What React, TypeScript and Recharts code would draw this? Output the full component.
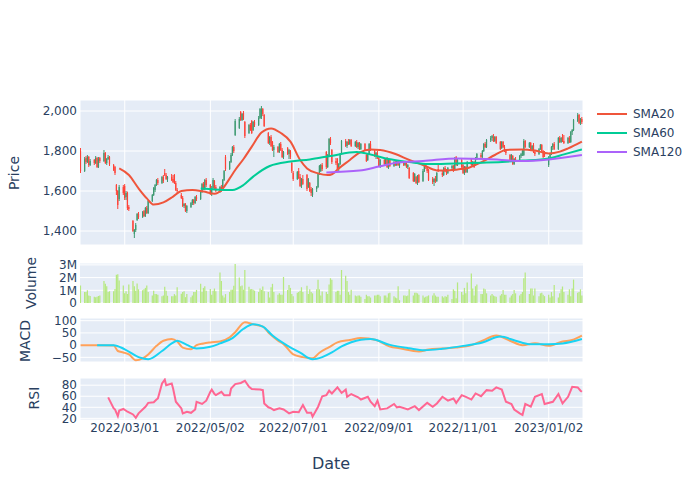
import React from "react";
import { ComposedChart, Bar, Line, XAxis, YAxis, CartesianGrid } from "recharts";

const FONT = '"DejaVu Sans", Verdana, sans-serif';
const INK = "#2a3f5f";
const BG = "#E5ECF6";

// daily candles [open, high, low, close], one array per month
const c2201 = [[1800, 1815, 1690, 1700], [1700, 1770, 1695, 1760]];
const c2202 = [
  [1765, 1775, 1735, 1745], [1745, 1780, 1740, 1770], [1770, 1775, 1720, 1730], [1730, 1760, 1725, 1750],
  [1755, 1760, 1730, 1740], [1740, 1775, 1735, 1765], [1765, 1770, 1715, 1720], [1720, 1770, 1715, 1760], [1765, 1770, 1740, 1750],
  [1750, 1805, 1745, 1790], [1790, 1795, 1735, 1740], [1740, 1765, 1730, 1760], [1760, 1780, 1755, 1770], [1770, 1775, 1725, 1735],
  [1730, 1735, 1700, 1705], [1720, 1725, 1680, 1690], [1630, 1635, 1580, 1600], [1600, 1605, 1510, 1530], [1560, 1630, 1550, 1620],
  [1620, 1630, 1580, 1590],
];
const c2203 = [
  [1625, 1635, 1555, 1565], [1570, 1600, 1555, 1590], [1590, 1597, 1505, 1515], [1520, 1530, 1500, 1510],
  [1450, 1455, 1395, 1400], [1385, 1410, 1365, 1405], [1405, 1440, 1395, 1430], [1455, 1490, 1450, 1485], [1485, 1495, 1460, 1470],
  [1470, 1500, 1465, 1495], [1500, 1505, 1470, 1475], [1475, 1520, 1470, 1515], [1515, 1525, 1485, 1490], [1490, 1555, 1485, 1550],
  [1550, 1585, 1545, 1580], [1580, 1620, 1575, 1615], [1605, 1635, 1595, 1630], [1630, 1660, 1625, 1655], [1655, 1665, 1630, 1640],
  [1640, 1675, 1635, 1670], [1670, 1680, 1640, 1650], [1690, 1710, 1675, 1680], [1680, 1690, 1655, 1660],
];
const c2204 = [
  [1660, 1675, 1645, 1670],
  [1670, 1685, 1650, 1655], [1660, 1680, 1640, 1645], [1680, 1685, 1635, 1640], [1640, 1650, 1600, 1605], [1605, 1615, 1590, 1600],
  [1580, 1590, 1560, 1565], [1565, 1575, 1520, 1525], [1525, 1540, 1515, 1535], [1535, 1540, 1495, 1500], [1500, 1530, 1490, 1525],
  [1520, 1545, 1515, 1540], [1540, 1560, 1530, 1555], [1555, 1560, 1530, 1540], [1540, 1575, 1535, 1570], [1570, 1580, 1550, 1560],
  [1560, 1600, 1555, 1595], [1595, 1640, 1590, 1635], [1635, 1645, 1605, 1610], [1610, 1660, 1605, 1655], [1655, 1665, 1620, 1630],
];
const c2205 = [
  [1630, 1635, 1580, 1590], [1590, 1625, 1575, 1615], [1615, 1665, 1610, 1655], [1650, 1655, 1610, 1620], [1620, 1630, 1595, 1600],
  [1600, 1625, 1590, 1620], [1620, 1630, 1595, 1600], [1605, 1660, 1600, 1655], [1655, 1705, 1650, 1700], [1770, 1780, 1700, 1710],
  [1710, 1750, 1705, 1745], [1745, 1790, 1740, 1780], [1780, 1825, 1775, 1820], [1820, 1830, 1790, 1800], [1880, 1960, 1875, 1950],
  [1915, 1970, 1910, 1960], [1995, 2000, 1950, 1955], [1955, 1990, 1950, 1985], [1990, 2000, 1955, 1960], [1945, 1950, 1865, 1875],
  [1890, 1935, 1885, 1930], [1930, 1940, 1900, 1905],
];
const c2206 = [
  [1950, 1955, 1885, 1890], [1905, 1950, 1900, 1945], [1945, 1955, 1920, 1930],
  [1930, 1975, 1925, 1965], [1965, 2015, 1960, 2010], [1970, 2025, 1960, 2010], [2010, 2015, 1975, 1985], [1980, 1985, 1920, 1925],
  [1890, 1895, 1835, 1840], [1840, 1875, 1830, 1870], [1870, 1880, 1820, 1825], [1845, 1850, 1800, 1805], [1805, 1830, 1770, 1820],
  [1820, 1825, 1790, 1795], [1795, 1840, 1790, 1835], [1835, 1845, 1800, 1805], [1805, 1815, 1765, 1770], [1770, 1800, 1760, 1795],
  [1815, 1820, 1780, 1785], [1785, 1810, 1760, 1805], [1800, 1805, 1760, 1770], [1740, 1745, 1690, 1700],
];
const c2207 = [
  [1690, 1700, 1650, 1660],
  [1660, 1700, 1655, 1695], [1700, 1715, 1660, 1665], [1670, 1685, 1620, 1625], [1625, 1665, 1615, 1660], [1660, 1680, 1630, 1635],
  [1680, 1685, 1600, 1610], [1620, 1665, 1615, 1660], [1640, 1645, 1595, 1600], [1610, 1620, 1575, 1590], [1580, 1615, 1570, 1610],
  [1610, 1625, 1595, 1620], [1620, 1690, 1615, 1685], [1685, 1730, 1680, 1725], [1700, 1735, 1695, 1730], [1730, 1740, 1700, 1710],
  [1795, 1800, 1710, 1720], [1720, 1785, 1715, 1780], [1775, 1865, 1770, 1860], [1860, 1870, 1830, 1840], [1805, 1810, 1735, 1745],
];
const c2208 = [
  [1750, 1765, 1730, 1740], [1760, 1765, 1705, 1710], [1710, 1740, 1700, 1735], [1735, 1790, 1730, 1785], [1790, 1855, 1785, 1850],
  [1850, 1860, 1820, 1825], [1825, 1850, 1815, 1845], [1845, 1860, 1830, 1835], [1835, 1860, 1830, 1855], [1855, 1860, 1820, 1825],
  [1825, 1850, 1820, 1845], [1845, 1855, 1815, 1820], [1820, 1845, 1810, 1840], [1840, 1845, 1805, 1810], [1810, 1840, 1805, 1835],
  [1835, 1840, 1800, 1805], [1780, 1785, 1745, 1750], [1755, 1790, 1750, 1785], [1785, 1840, 1780, 1835], [1835, 1850, 1800, 1805],
  [1800, 1810, 1770, 1775], [1775, 1795, 1760, 1790], [1790, 1800, 1760, 1765],
];
const c2209 = [
  [1765, 1770, 1720, 1725], [1725, 1760, 1715, 1755],
  [1755, 1765, 1730, 1735], [1735, 1765, 1725, 1760], [1760, 1770, 1715, 1720], [1715, 1765, 1710, 1760], [1755, 1760, 1720, 1725],
  [1725, 1750, 1720, 1745], [1745, 1750, 1725, 1730], [1730, 1755, 1725, 1750], [1750, 1755, 1725, 1730], [1730, 1745, 1715, 1740],
  [1740, 1750, 1725, 1730], [1730, 1750, 1725, 1745], [1745, 1750, 1715, 1720], [1720, 1735, 1710, 1730], [1715, 1720, 1660, 1665],
  [1690, 1695, 1645, 1650], [1650, 1690, 1645, 1685], [1670, 1675, 1635, 1640], [1640, 1680, 1630, 1675], [1680, 1685, 1640, 1645],
];
const c2210 = [
  [1650, 1710, 1645, 1700], [1700, 1740, 1695, 1735], [1735, 1740, 1710, 1720], [1720, 1725, 1690, 1700], [1705, 1710, 1650, 1655],
  [1660, 1670, 1635, 1645], [1645, 1665, 1625, 1660], [1660, 1675, 1640, 1650], [1650, 1695, 1645, 1690], [1710, 1730, 1695, 1700],
  [1690, 1700, 1670, 1680], [1680, 1720, 1675, 1715], [1715, 1725, 1695, 1700], [1700, 1710, 1680, 1690], [1690, 1720, 1685, 1715],
  [1715, 1730, 1700, 1725], [1725, 1730, 1695, 1700], [1705, 1770, 1700, 1765], [1770, 1775, 1725, 1730], [1730, 1760, 1725, 1755],
  [1755, 1760, 1715, 1720],
];
const c2211 = [
  [1730, 1735, 1685, 1690], [1690, 1725, 1680, 1720], [1720, 1725, 1690, 1695], [1695, 1750, 1690, 1745],
  [1760, 1765, 1725, 1730], [1730, 1750, 1720, 1745], [1745, 1750, 1715, 1720], [1730, 1770, 1725, 1765], [1765, 1790, 1755, 1785],
  [1780, 1790, 1760, 1770], [1770, 1805, 1765, 1800], [1800, 1840, 1795, 1835], [1835, 1845, 1815, 1820], [1820, 1860, 1815, 1855],
  [1855, 1875, 1845, 1865], [1865, 1880, 1850, 1875], [1870, 1885, 1845, 1850], [1850, 1875, 1845, 1870], [1870, 1875, 1835, 1840],
  [1845, 1850, 1805, 1810], [1815, 1850, 1810, 1845], [1845, 1850, 1815, 1820],
];
const c2212 = [
  [1820, 1830, 1795, 1800], [1800, 1810, 1780, 1790],
  [1780, 1785, 1745, 1750], [1750, 1785, 1745, 1780], [1775, 1780, 1730, 1735], [1735, 1765, 1730, 1760], [1760, 1770, 1745, 1750],
  [1750, 1780, 1745, 1775], [1775, 1790, 1765, 1785], [1785, 1810, 1775, 1800], [1780, 1860, 1775, 1850], [1850, 1855, 1815, 1820],
  [1820, 1845, 1815, 1840], [1840, 1845, 1800, 1805], [1805, 1830, 1800, 1825], [1830, 1840, 1790, 1795], [1795, 1805, 1775, 1785],
  [1785, 1815, 1780, 1810], [1810, 1835, 1805, 1830], [1830, 1835, 1795, 1800], [1800, 1805, 1765, 1770], [1790, 1800, 1770, 1780],
];
const c2301 = [
  [1730, 1775, 1720, 1770], [1770, 1790, 1760, 1785], [1785, 1825, 1780, 1820], [1820, 1840, 1805, 1835], [1835, 1845, 1805, 1810],
  [1810, 1870, 1805, 1865], [1865, 1875, 1840, 1845], [1845, 1870, 1840, 1865], [1870, 1885, 1845, 1850], [1850, 1880, 1835, 1840],
  [1840, 1870, 1835, 1865], [1865, 1875, 1840, 1845], [1845, 1900, 1840, 1895], [1895, 1910, 1880, 1905], [1905, 1960, 1900, 1955],
  [1950, 1990, 1945, 1980], [1980, 1985, 1935, 1940], [1940, 1965, 1930, 1960], [1960, 1970, 1935, 1945],
];

// volume in millions, daily
const volumeH1 = [
  1.37, 0.86, 0.86, 1.0, 0.6, 0.55, 0.5, 0.46, 0.5, 0.55,
  0.59, 1.73, 1.51, 1.32, 0.86, 0.92, 0.92, 1.1, 2.22, 2.27,
  1.78, 1.38, 0.76, 0.92, 0.7, 1.46, 1.73, 1.32, 0.97, 1.54,
  1.08, 1.0, 1.08, 1.19, 1.38, 0.86, 0.59, 0.97, 0.7, 0.7,
  0.65, 0.54, 0.59, 1.27, 0.97, 0.57, 0.54, 0.54, 0.7, 0.59,
  1.24, 0.73, 0.86, 0.92, 0.46, 0.7, 0.46, 0.59, 0.86, 0.86,
  1.03, 1.51, 0.86, 1.19, 1.32, 0.97, 1.11, 0.65, 0.97, 1.14,
  0.92, 2.4, 1.73, 0.59, 0.43, 0.7, 0.86, 1.05, 1.05, 1.35,
  3.08, 2.0, 1.32, 1.38, 1.05, 2.6, 1.27, 1.08, 1.11, 1.05,
  0.97, 0.86, 1.14, 1.03, 1.3, 0.92, 0.86, 0.43, 1.24, 1.51,
  0.86, 0.65, 0.76, 0.65, 0.65, 2.05, 1.03, 1.41, 1.19, 0.7,
  0.54, 0.8, 0.86, 0.97, 1.24, 0.86, 1.35, 0.7, 1.08, 0.86,
  0.76, 1.08, 1.84, 1.08, 0.59, 0.9, 0.86, 0.7, 1.46, 1.95, 1.84,
];
const volumeH2 = [
  0.86, 0.97, 0.97, 0.65, 2.6, 2.14, 1.73, 0.86, 0.65,
  1.05, 0.59, 0.54, 0.59, 0.59, 0.49, 0.32, 0.65, 0.54, 0.54,
  0.43, 0.6, 0.59, 0.65, 0.65, 0.54, 0.59, 0.59, 0.43, 0.76, 0.81,
  0.54, 0.43, 0.38, 1.32, 0.22, 0.59, 0.59, 0.54, 0.59, 1.08,
  0.59, 0.81, 0.81, 0.76, 0.65, 0.59, 0.43, 0.49, 0.54, 0.6, 0.59,
  0.76, 0.59, 0.49, 0.49, 0.54, 0.43, 0.54, 0.49, 0.65, 0.32,
  1.08, 0.97, 0.38, 1.62, 0.86, 0.65, 1.19, 0.76, 1.62, 2.32,
  1.14, 0.59, 1.32, 1.46, 0.7, 0.7, 1.14, 1.08, 0.76, 0.59,
  0.7, 0.59, 0.54, 0.49, 0.6, 0.7, 1.03, 0.65, 0.65, 0.43, 0.59,
  0.7, 1.03, 0.76, 0.59, 0.7, 0.86, 1.95, 2.4, 0.7, 1.14,
  1.14, 0.59, 1.14, 0.54, 0.76, 0.81, 0.65, 0.54, 0.65, 0.43,
  0.86, 0.54, 1.41, 0.43, 0.76, 1.08, 1.3, 0.86, 0.65, 1.08,
  0.54, 1.14, 1.84, 0.81, 0.86, 1.08,
];

// moving averages, read at roughly weekly dates
const sma20: [string, number][] = [
  ["2022-02-25", 1713], ["2022-03-04", 1680], ["2022-03-11", 1613], ["2022-03-17", 1563], ["2022-03-22", 1532],
  ["2022-03-29", 1543], ["2022-04-05", 1572], ["2022-04-11", 1600], ["2022-04-19", 1605], ["2022-04-27", 1597],
  ["2022-05-05", 1586], ["2022-05-10", 1605], ["2022-05-16", 1663], ["2022-05-20", 1705], ["2022-05-26", 1760],
  ["2022-06-01", 1822], ["2022-06-08", 1892], ["2022-06-15", 1913], ["2022-06-22", 1890], ["2022-06-29", 1847],
  ["2022-07-06", 1755], ["2022-07-11", 1713], ["2022-07-19", 1688], ["2022-07-26", 1680], ["2022-07-29", 1684],
  ["2022-08-03", 1713], ["2022-08-11", 1755], ["2022-08-18", 1792], ["2022-08-26", 1808], ["2022-09-02", 1805],
  ["2022-09-13", 1785], ["2022-09-23", 1755], ["2022-10-03", 1730], ["2022-10-13", 1703], ["2022-10-20", 1702],
  ["2022-10-28", 1708], ["2022-11-04", 1714], ["2022-11-15", 1747], ["2022-11-24", 1780], ["2022-12-02", 1805],
  ["2022-12-14", 1808], ["2022-12-23", 1802], ["2023-01-02", 1788], ["2023-01-10", 1797], ["2023-01-16", 1813],
  ["2023-01-26", 1847],
];
const sma60: [string, number][] = [
  ["2022-04-25", 1613], ["2022-05-05", 1608], ["2022-05-18", 1605], ["2022-05-26", 1630], ["2022-06-02", 1672],
  ["2022-06-14", 1725], ["2022-06-29", 1747], ["2022-07-13", 1758], ["2022-07-28", 1775], ["2022-08-16", 1795],
  ["2022-08-26", 1783], ["2022-09-08", 1760], ["2022-09-23", 1745], ["2022-10-07", 1735], ["2022-10-26", 1738],
  ["2022-11-18", 1742], ["2022-12-14", 1752], ["2023-01-02", 1763], ["2023-01-13", 1783], ["2023-01-26", 1808],
];
const sma120: [string, number][] = [
  ["2022-07-25", 1693], ["2022-08-18", 1702], ["2022-09-01", 1722], ["2022-09-15", 1743], ["2022-10-03", 1750],
  ["2022-10-28", 1763], ["2022-11-18", 1760], ["2022-12-14", 1750], ["2023-01-02", 1758], ["2023-01-26", 1780],
];

const macd: [string, number][] = [
  ["2022-01-28", 0], ["2022-02-09", 0], ["2022-02-21", -2], ["2022-02-24", -24], ["2022-02-28", -30],
  ["2022-03-04", -38], ["2022-03-09", -62], ["2022-03-14", -54], ["2022-03-18", -38], ["2022-03-24", -3],
  ["2022-03-29", 18], ["2022-04-04", 25], ["2022-04-08", 15], ["2022-04-12", -10], ["2022-04-18", -17],
  ["2022-04-22", 0], ["2022-04-27", 7], ["2022-05-02", 11], ["2022-05-09", 15], ["2022-05-16", 32],
  ["2022-05-20", 53], ["2022-05-27", 94], ["2022-06-02", 85], ["2022-06-09", 76], ["2022-06-14", 46],
  ["2022-06-20", 18], ["2022-06-24", 4], ["2022-07-01", -38], ["2022-07-08", -49], ["2022-07-15", -54],
  ["2022-07-20", -31], ["2022-07-27", -8], ["2022-08-02", 11], ["2022-08-11", 21], ["2022-08-19", 29],
  ["2022-08-30", 21], ["2022-09-09", -6], ["2022-09-16", -13], ["2022-09-30", -26], ["2022-10-07", -18],
  ["2022-10-17", -14], ["2022-10-27", -10], ["2022-11-07", 0], ["2022-11-15", 18], ["2022-11-25", 39],
  ["2022-12-05", 18], ["2022-12-14", 0], ["2022-12-23", 8], ["2023-01-02", -3], ["2023-01-12", 15],
  ["2023-01-19", 21], ["2023-01-26", 39],
];
const signal: [string, number][] = [
  ["2022-02-09", 0], ["2022-02-21", 0], ["2022-03-01", -17], ["2022-03-11", -49], ["2022-03-18", -58],
  ["2022-03-28", -24], ["2022-04-04", 7], ["2022-04-08", 18], ["2022-04-15", 1], ["2022-04-22", -14],
  ["2022-05-02", -7], ["2022-05-09", 7], ["2022-05-18", 29], ["2022-05-26", 67], ["2022-06-02", 85],
  ["2022-06-09", 76], ["2022-06-16", 39], ["2022-06-27", -3], ["2022-07-06", -31], ["2022-07-15", -58],
  ["2022-07-22", -49], ["2022-07-29", -30], ["2022-08-05", -5], ["2022-08-12", 12], ["2022-08-19", 22],
  ["2022-08-26", 25], ["2022-09-09", 1], ["2022-09-23", -13], ["2022-10-04", -21], ["2022-10-17", -15],
  ["2022-11-01", -3], ["2022-11-15", 11], ["2022-11-28", 35], ["2022-12-09", 18], ["2022-12-19", 4],
  ["2023-01-02", 4], ["2023-01-12", 7], ["2023-01-26", 25],
];

const rsi: [string, number][] = [
  ["2022-02-17", 58], ["2022-02-21", 38], ["2022-02-22", 36], ["2022-02-24", 24], ["2022-02-25", 34],
  ["2022-02-28", 37], ["2022-03-03", 32], ["2022-03-07", 27], ["2022-03-09", 21], ["2022-03-11", 29],
  ["2022-03-16", 41], ["2022-03-18", 48], ["2022-03-22", 49], ["2022-03-24", 54], ["2022-03-25", 56],
  ["2022-03-28", 83], ["2022-03-30", 90], ["2022-03-31", 80], ["2022-04-04", 83], ["2022-04-05", 74],
  ["2022-04-07", 50], ["2022-04-11", 38], ["2022-04-12", 29], ["2022-04-15", 32], ["2022-04-18", 30],
  ["2022-04-21", 36], ["2022-04-22", 50], ["2022-04-26", 46], ["2022-04-29", 52], ["2022-05-02", 68],
  ["2022-05-03", 72], ["2022-05-05", 64], ["2022-05-06", 62], ["2022-05-10", 68], ["2022-05-12", 62],
  ["2022-05-16", 62], ["2022-05-17", 74], ["2022-05-20", 82], ["2022-05-24", 84], ["2022-05-27", 88],
  ["2022-05-30", 77], ["2022-06-01", 73], ["2022-06-07", 72], ["2022-06-09", 71], ["2022-06-10", 47],
  ["2022-06-13", 40], ["2022-06-15", 38], ["2022-06-17", 35], ["2022-06-21", 38], ["2022-06-24", 36],
  ["2022-06-28", 29], ["2022-07-01", 32], ["2022-07-05", 31], ["2022-07-08", 44], ["2022-07-11", 30],
  ["2022-07-14", 30], ["2022-07-15", 23], ["2022-07-19", 41], ["2022-07-22", 60], ["2022-07-25", 62],
  ["2022-07-27", 70], ["2022-07-29", 65], ["2022-08-02", 76], ["2022-08-05", 66], ["2022-08-08", 72],
  ["2022-08-09", 59], ["2022-08-12", 64], ["2022-08-17", 58], ["2022-08-19", 54], ["2022-08-24", 59],
  ["2022-08-26", 50], ["2022-08-29", 42], ["2022-08-31", 52], ["2022-09-02", 36], ["2022-09-07", 38],
  ["2022-09-12", 46], ["2022-09-14", 40], ["2022-09-16", 41], ["2022-09-22", 36], ["2022-09-27", 42],
  ["2022-09-30", 35], ["2022-10-06", 48], ["2022-10-10", 41], ["2022-10-13", 47], ["2022-10-17", 59],
  ["2022-10-21", 52], ["2022-10-25", 56], ["2022-10-27", 48], ["2022-10-31", 62], ["2022-11-03", 59],
  ["2022-11-07", 54], ["2022-11-10", 65], ["2022-11-14", 60], ["2022-11-18", 71], ["2022-11-22", 70],
  ["2022-11-25", 76], ["2022-11-29", 72], ["2022-12-02", 50], ["2022-12-06", 46], ["2022-12-08", 36],
  ["2022-12-12", 29], ["2022-12-14", 26], ["2022-12-16", 46], ["2022-12-20", 41], ["2022-12-23", 59],
  ["2022-12-28", 64], ["2022-12-30", 46], ["2023-01-05", 50], ["2023-01-09", 64], ["2023-01-12", 47],
  ["2023-01-16", 59], ["2023-01-19", 77], ["2023-01-23", 76], ["2023-01-25", 70], ["2023-01-26", 68],
];

const tickDates = ["2022-03-01", "2022-05-02", "2022-07-01", "2022-09-01", "2022-11-01", "2023-01-02"];

// days counted from 2022-01-01 (a Saturday)
const EPOCH = Date.UTC(2022, 0, 1);
const dayOf = (s: string) => {
  const [y, m, d] = s.split("-").map(Number);
  return (Date.UTC(y, m - 1, d) - EPOCH) / 86400000;
};
const fmtDay = (d: number) => {
  const dt = new Date(EPOCH + d * 86400000);
  const p = (n: number) => String(n).padStart(2, "0");
  return `${dt.getUTCFullYear()}/${p(dt.getUTCMonth() + 1)}/${p(dt.getUTCDate())}`;
};

const ohlc = [...c2201, ...c2202, ...c2203, ...c2204, ...c2205, ...c2206, ...c2207, ...c2208, ...c2209, ...c2210, ...c2211, ...c2212, ...c2301];
const volume = [...volumeH1, ...volumeH2];

const sessions: number[] = [];
for (let d = dayOf("2022-01-28"); sessions.length < ohlc.length; d++) {
  if (d % 7 !== 0 && d % 7 !== 1) sessions.push(d);
}

const rows = ohlc.map(([open, high, low, close], i) => ({
  t: sessions[i],
  open,
  high,
  low,
  close,
  hl: [low, high],
  volume: (volume[i] ?? 0.6) * 1e6,
}));

const pts = (pairs: [string, number][]) => pairs.map(([d, v]) => ({ t: dayOf(d), v }));

const X_DOMAIN: [number, number] = [26.6, 390.8];
const xTicks = tickDates.map(dayOf);
// 8px of slack above and below each panel so edge tick labels are not clipped
const PAD = 8;
const MARGIN = { top: PAD, right: 117, bottom: PAD, left: 30 };
const tickStyle = { fontSize: 12, fill: INK, fontFamily: FONT };

function Candle(props: any) {
  const { x, y, width, height, payload } = props;
  if (x == null || !payload) return null;
  const { open, high, low, close } = payload;
  const top = Math.min(y, y + height);
  const h = Math.abs(height);
  const span = high - low || 1;
  const py = (v: number) => top + ((high - v) / span) * h;
  const color = close >= open ? "#3D9970" : "#FF4136";
  const b1 = py(Math.max(open, close));
  const b2 = py(Math.min(open, close));
  const cx = x + width / 2;
  return (
    <g>
      <line x1={cx} x2={cx} y1={top} y2={top + h} stroke={color} strokeWidth={1} />
      <rect x={x} y={b1} width={width} height={Math.max(1, b2 - b1)} fill={color} />
    </g>
  );
}

function yAxis(domain: [number, number], ticks: number[], fmt?: (v: number) => string) {
  return (
    <YAxis
      type="number"
      domain={domain}
      ticks={ticks}
      interval={0}
      allowDataOverflow
      width={50}
      axisLine={false}
      tickLine={false}
      tickSize={0}
      tickMargin={3}
      tick={tickStyle}
      tickFormatter={fmt}
    />
  );
}

const hiddenX = (
  <XAxis dataKey="t" type="number" domain={X_DOMAIN} ticks={xTicks} interval={0} allowDataOverflow hide />
);

const minus = (v: number) => (v < 0 ? `\u2212${Math.abs(v)}` : String(v));

const legend = [
  { name: "SMA20", color: "#EF553B" },
  { name: "SMA60", color: "#00CC96" },
  { name: "SMA120", color: "#AB63FA" },
];

export default function App() {
  return (
    <div style={{ position: "absolute", left: 0, top: 0, width: 700, height: 500, background: "#fff", fontFamily: FONT }}>
      {/* Price */}
      <div style={{ position: "absolute", left: 0, top: 100 - PAD }}>
        <ComposedChart width={700} height={145 + 2 * PAD} data={rows} margin={MARGIN}>
          <CartesianGrid stroke="#fff" fill={BG} />
          {hiddenX}
          {yAxis([1330, 2055], [1400, 1600, 1800, 2000], (v) => v.toLocaleString("en-US"))}
          <Bar dataKey="hl" barSize={2} shape={(p: any) => <Candle {...p} />} isAnimationActive={false} />
          <Line data={pts(sma20)} dataKey="v" type="monotone" stroke="#EF553B" strokeWidth={2} dot={false} isAnimationActive={false} />
          <Line data={pts(sma60)} dataKey="v" type="monotone" stroke="#00CC96" strokeWidth={2} dot={false} isAnimationActive={false} />
          <Line data={pts(sma120)} dataKey="v" type="monotone" stroke="#AB63FA" strokeWidth={2} dot={false} isAnimationActive={false} />
        </ComposedChart>
      </div>

      {/* Volume */}
      <div style={{ position: "absolute", left: 0, top: 263 - PAD }}>
        <ComposedChart width={700} height={40 + 2 * PAD} data={rows} margin={MARGIN}>
          <CartesianGrid stroke="#fff" fill={BG} vertical={false} />
          {hiddenX}
          {yAxis([0, 3.15e6], [0, 1e6, 2e6, 3e6], (v) => (v === 0 ? "0" : `${v / 1e6}M`))}
          <Bar dataKey="volume" barSize={1.5} fill="#B6E880" isAnimationActive={false} />
        </ComposedChart>
      </div>

      {/* MACD */}
      <div style={{ position: "absolute", left: 0, top: 318 - PAD }}>
        <ComposedChart width={700} height={44 + 2 * PAD} data={rows} margin={MARGIN}>
          <CartesianGrid stroke="#fff" fill={BG} />
          {hiddenX}
          {yAxis([-69, 111], [-50, 0, 50, 100], minus)}
          <Line data={pts(macd)} dataKey="v" type="monotone" stroke="#FFA15A" strokeWidth={2} dot={false} isAnimationActive={false} />
          <Line data={pts(signal)} dataKey="v" type="monotone" stroke="#19D3F3" strokeWidth={2} dot={false} isAnimationActive={false} />
        </ComposedChart>
      </div>

      {/* RSI */}
      <div style={{ position: "absolute", left: 0, top: 378 - PAD }}>
        <ComposedChart width={700} height={42 + PAD + 30} data={rows} margin={{ ...MARGIN, bottom: 0 }}>
          <CartesianGrid stroke="#fff" fill={BG} />
          <XAxis
            dataKey="t"
            type="number"
            domain={X_DOMAIN}
            ticks={xTicks}
            interval={0}
            allowDataOverflow
            height={30}
            axisLine={false}
            tickLine={false}
            tickSize={0}
            tickMargin={3}
            tick={tickStyle}
            tickFormatter={fmtDay}
          />
          {yAxis([17, 93], [20, 40, 60, 80])}
          <Line data={pts(rsi)} dataKey="v" type="linear" stroke="#FF6692" strokeWidth={2} dot={false} isAnimationActive={false} />
        </ComposedChart>
      </div>

      {/* titles and legend */}
      <svg width={700} height={500} style={{ position: "absolute", left: 0, top: 0, pointerEvents: "none" }}>
        <g fill={INK} fontFamily={FONT} fontSize={14} textAnchor="middle" dominantBaseline="central">
          <text x={14} y={173} transform="rotate(-90 14 173)">Price</text>
          <text x={31} y={283} transform="rotate(-90 31 283)">Volume</text>
          <text x={25} y={341} transform="rotate(-90 25 341)">MACD</text>
          <text x={34} y={398} transform="rotate(-90 34 398)">RSI</text>
          <text x={331} y={463} fontSize={16}>Date</text>
        </g>
        {legend.map((s, i) => (
          <g key={s.name}>
            <line x1={597} x2={627} y1={114 + i * 19} y2={114 + i * 19} stroke={s.color} strokeWidth={2} />
            <text x={633} y={114 + i * 19} dominantBaseline="central" fontSize={12} fill={INK} fontFamily={FONT}>
              {s.name}
            </text>
          </g>
        ))}
      </svg>
    </div>
  );
}
